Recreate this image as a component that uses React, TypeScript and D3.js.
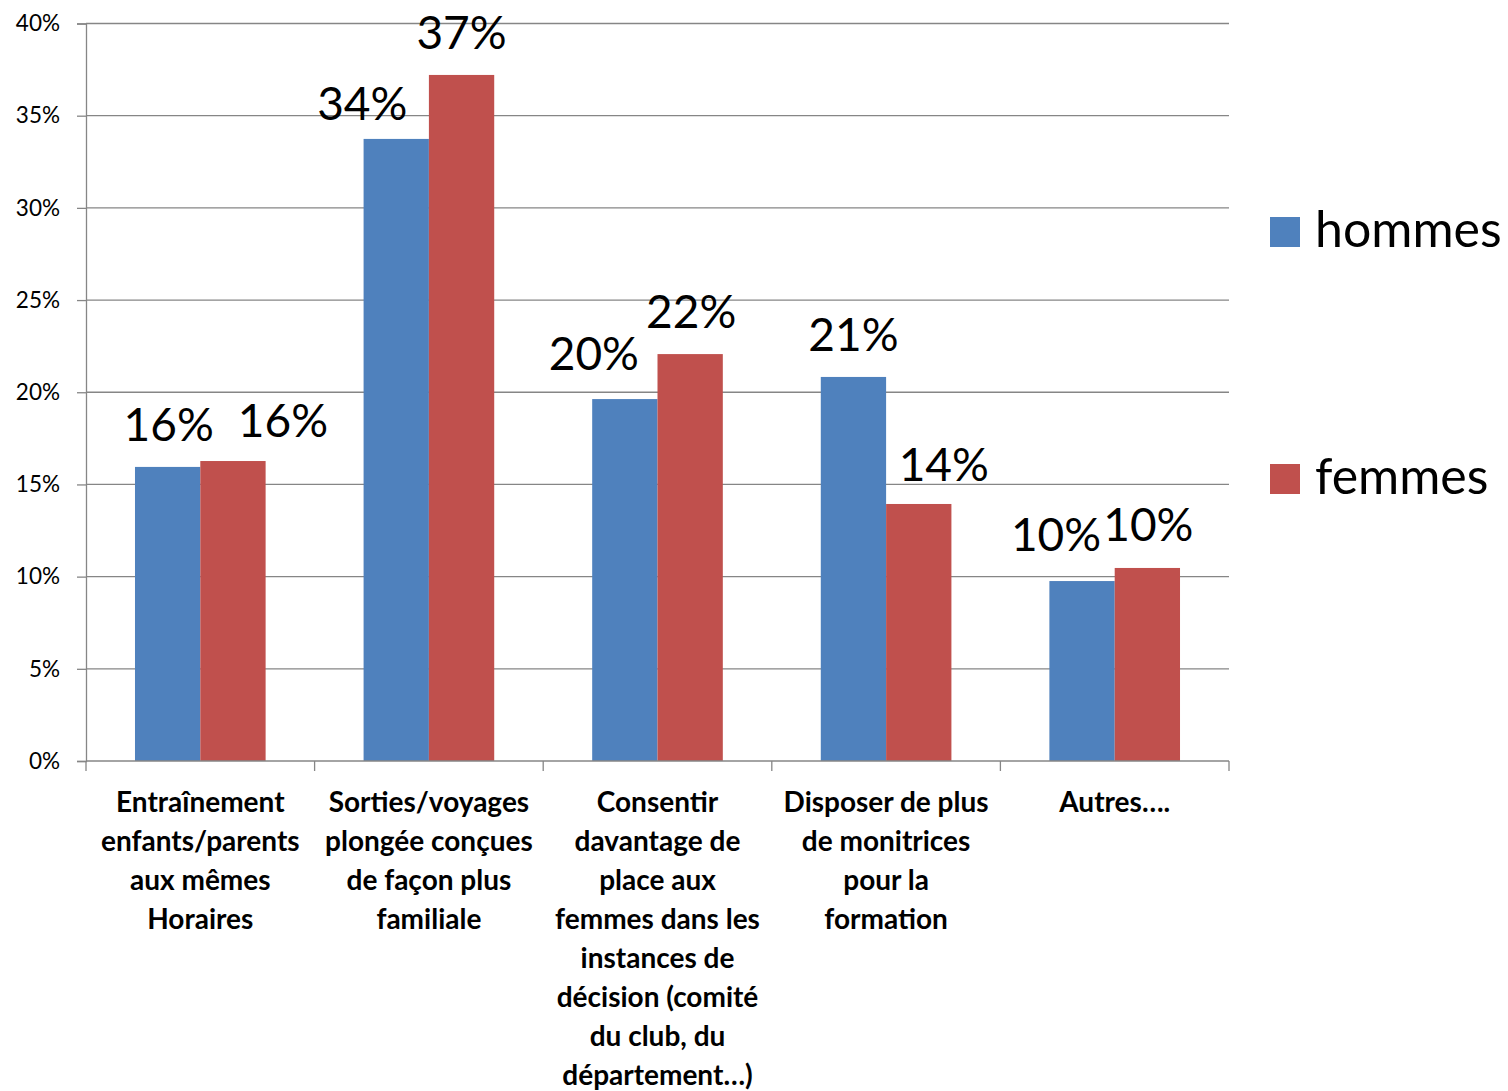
import React, { useEffect, useRef } from 'react';
import * as d3 from 'd3';

const categories = [
    ['Entraînement', 'enfants/parents', 'aux mêmes', 'Horaires'],
    ['Sorties/voyages', 'plongée conçues', 'de façon plus', 'familiale'],
    ['Consentir', 'davantage de', 'place aux', 'femmes dans les', 'instances de', 'décision (comité', 'du club, du', 'département…)'],
    ['Disposer de plus', 'de monitrices', 'pour la', 'formation'],
    ['Autres….'],
];
const seriesNames = ['hommes', 'femmes'];
const hommes = [15.95, 33.74, 19.63, 20.83, 9.76];
const femmes = [16.27, 37.21, 22.07, 13.94, 10.47];
const yTicks = [0, 5, 10, 15, 20, 25, 30, 35, 40];

const colors = ['#4F81BD', '#C0504D'];
// manual nudges of the data labels (Excel moved some to avoid overlaps)
const labelNudge: [number, number][][] = [
    [[1, 0], [-34, 7], [-31, -3], [0, 0], [-26, -4]],
    [[50, 2], [0, 0], [1, 0], [25, 3], [1, -1]],
];

const W = 1508;
const H = 1091;

const App: React.FC = () => {
    const ref = useRef<SVGSVGElement | null>(null);

    useEffect(() => {
        if (!ref.current) return;
        const svg = d3.select(ref.current);
        svg.selectAll('*').remove();

        const left = 86, right = 1229, top = 23.5, bottom = 761;
        const idx = categories.map((_, i) => i);
        const x0 = d3.scaleBand<number>().domain(idx).range([left, right]).padding(0);
        const groupW = x0.step() * (2 / 3.5);
        const x1 = d3.scaleBand<number>().domain([0, 1]).range([0, groupW]);
        const y = d3.scaleLinear().domain([0, 40]).range([bottom, top]);
        const gray = '#868686';
        const barX = (i: number, s: number) => x0(i)! + (x0.step() - groupW) / 2 + x1(s)!;

        // gridlines
        svg.append('g')
            .selectAll('line')
            .data(yTicks.filter(t => t > 0))
            .enter()
            .append('line')
            .attr('x1', left)
            .attr('x2', right)
            .attr('y1', d => y(d))
            .attr('y2', d => y(d))
            .attr('stroke', gray)
            .attr('stroke-width', 1.3);

        // y axis
        const yAxis = svg.append('g')
            .attr('transform', `translate(${left},0)`)
            .call(d3.axisLeft(y).tickValues(yTicks).tickSize(9).tickFormat(d => `${d}%`));
        yAxis.select('.domain').attr('stroke', gray).attr('stroke-width', 1.3);
        yAxis.selectAll('.tick line').attr('stroke', gray).attr('stroke-width', 1.3);
        yAxis.selectAll('.tick text')
            .attr('x', -26)
            .attr('font-family', 'Lato, sans-serif')
            .attr('font-size', '22.5px')
            .attr('fill', '#000');

        // bars
        const series = [hommes, femmes];
        series.forEach((vals, s) => {
            svg.append('g')
                .selectAll('rect')
                .data(vals)
                .enter()
                .append('rect')
                .attr('x', (_, i) => barX(i, s))
                .attr('y', d => y(d))
                .attr('width', x1.bandwidth())
                .attr('height', d => bottom - y(d))
                .attr('fill', colors[s]);
        });

        // data labels, drawn above all bars
        series.forEach((vals, s) => {
            svg.append('g')
                .selectAll('text')
                .data(vals)
                .enter()
                .append('text')
                .attr('x', (_, i) => barX(i, s) + x1.bandwidth() / 2 + labelNudge[s][i][0])
                .attr('y', (d, i) => y(d) - 26 + labelNudge[s][i][1])
                .attr('text-anchor', 'middle')
                .attr('font-family', 'Lato, sans-serif')
                .attr('font-size', '46px')
                .attr('fill', '#000')
                .text(d => `${Math.round(d)}%`);
        });

        // x axis
        const xAxis = svg.append('g');
        xAxis.append('line')
            .attr('x1', left).attr('x2', right)
            .attr('y1', bottom).attr('y2', bottom)
            .attr('stroke', gray).attr('stroke-width', 1.3);
        xAxis.selectAll('.xtick')
            .data([...idx, idx.length])
            .enter()
            .append('line')
            .attr('x1', d => left + d * x0.step())
            .attr('x2', d => left + d * x0.step())
            .attr('y1', bottom)
            .attr('y2', bottom + 10)
            .attr('stroke', gray)
            .attr('stroke-width', 1.3);

        const catText = svg.append('g')
            .selectAll('text')
            .data(categories)
            .enter()
            .append('text')
            .attr('text-anchor', 'middle')
            .attr('font-family', 'Lato, sans-serif')
            .attr('font-weight', 'bold')
            .attr('font-size', '28px')
            .attr('fill', '#000');
        catText.each(function (lines, i) {
            const t = d3.select(this);
            lines.forEach((line, j) => {
                t.append('tspan')
                    .attr('x', x0(i)! + x0.step() / 2)
                    .attr('y', 812 + j * 39)
                    .text(line);
            });
        });

        // legend
        const legend = svg.append('g');
        seriesNames.forEach((name, s) => {
            const ly = s === 0 ? 217 : 464;
            legend.append('rect')
                .attr('x', 1270).attr('y', ly)
                .attr('width', 30).attr('height', 30)
                .attr('fill', colors[s]);
            legend.append('text')
                .attr('x', 1315).attr('y', ly + 30)
                .attr('font-family', 'Lato, sans-serif')
                .attr('font-size', '50px')
                .attr('fill', '#000')
                .text(name);
        });
    }, []);

    return (
        <div style={{ position: 'absolute', left: 0, top: 0, width: W, height: H, background: '#fff' }}>
            <svg ref={ref} width={W} height={H} />
        </div>
    );
};

export default App;
